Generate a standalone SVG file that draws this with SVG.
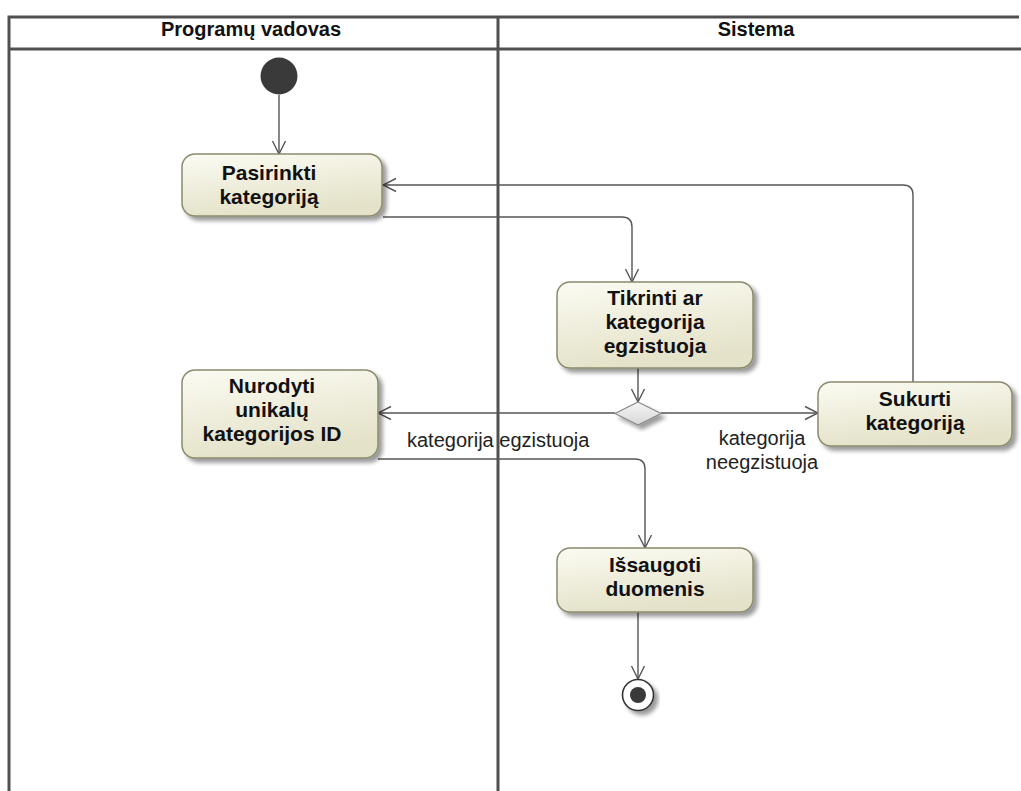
<svg xmlns="http://www.w3.org/2000/svg" width="1021" height="791" viewBox="0 0 1021 791">
  <defs>
    <linearGradient id="actFill" x1="0" y1="0" x2="0.3" y2="1">
      <stop offset="0" stop-color="#fbfbf3"/>
      <stop offset="1" stop-color="#e4e2c8"/>
    </linearGradient>
    <linearGradient id="diaFill" x1="0" y1="0" x2="0" y2="1">
      <stop offset="0" stop-color="#f4f4f4"/>
      <stop offset="1" stop-color="#d8d8d8"/>
    </linearGradient>
    <filter id="shadow" x="-10%" y="-10%" width="130%" height="140%">
      <feGaussianBlur in="SourceAlpha" stdDeviation="2"/>
      <feOffset dx="4" dy="4" result="b"/>
      <feComponentTransfer><feFuncA type="linear" slope="0.4"/></feComponentTransfer>
      <feMerge><feMergeNode/><feMergeNode in="SourceGraphic"/></feMerge>
    </filter>
    <marker id="arrow" viewBox="0 0 16 16" refX="15" refY="8" markerWidth="16" markerHeight="16" markerUnits="userSpaceOnUse" orient="auto">
      <path d="M2,1.5 L15,8 L2,14.5" fill="none" stroke="#555" stroke-width="1.4"/>
    </marker>
  </defs>
  <style>
    .lane { fill: none; stroke: #505050; stroke-width: 3; }
    .head { font-family: "Liberation Sans Narrow", "Liberation Sans", Arial, sans-serif; font-weight: bold; font-size: 20px; fill: #111; text-anchor: middle; }
    .act { fill: url(#actFill); stroke: #8a8a6c; stroke-width: 1.5; filter: url(#shadow); }
    .lbl { font-family: "Liberation Sans", Arial, sans-serif; font-weight: bold; font-size: 21px; fill: #111; text-anchor: middle; }
    .guard { font-family: "Liberation Sans", Arial, sans-serif; font-size: 20px; fill: #222; }
    .edge { fill: none; stroke: #555; stroke-width: 1.4; marker-end: url(#arrow); }
  </style>
  <rect width="1021" height="791" fill="#ffffff"/>

  <!-- swimlane frame -->
  <g id="lanes">
    <path class="lane" d="M9,800 V17 H1019"/>
    <line class="lane" x1="9" y1="49" x2="1021" y2="49"/>
    <line class="lane" x1="498" y1="17" x2="498" y2="800"/>
    <text class="head" x="251" y="36">Programų vadovas</text>
    <text class="head" x="756" y="36">Sistema</text>
  </g>

  <!-- connectors -->
  <g id="connectors">
    <path class="edge" d="M279,95 V154"/>
    <path class="edge" d="M383,217 H622 Q632,217 632,227 V282"/>
    <path class="edge" d="M638,368 V402"/>
    <path class="edge" d="M615,413 H378"/>
    <path class="edge" d="M661,413 H818"/>
    <path class="edge" d="M913,382 V195 Q913,185 903,185 H383"/>
    <path class="edge" d="M378,459 H635 Q645,459 645,469 V548"/>
    <path class="edge" d="M638,612 V679"/>
    <text class="guard" x="407" y="447">kategorija egzistuoja</text>
    <text class="guard" x="762" y="445" text-anchor="middle">kategorija</text>
    <text class="guard" x="762" y="469" text-anchor="middle">neegzistuoja</text>
  </g>

  <g id="start">
    <circle cx="279" cy="76" r="18.5" fill="#3a3a3a"/>
  </g>

  <g id="pasirinkti">
    <rect class="act" x="182" y="154" width="200" height="62" rx="13"/>
    <text class="lbl" x="269" y="180">Pasirinkti</text>
    <text class="lbl" x="269" y="204">kategoriją</text>
  </g>

  <g id="tikrinti">
    <rect class="act" x="557" y="282" width="196" height="86" rx="13"/>
    <text class="lbl" x="655" y="305">Tikrinti ar</text>
    <text class="lbl" x="655" y="329">kategorija</text>
    <text class="lbl" x="655" y="353">egzistuoja</text>
  </g>

  <g id="nurodyti">
    <rect class="act" x="182" y="370" width="196" height="88" rx="13"/>
    <text class="lbl" x="272" y="393">Nurodyti</text>
    <text class="lbl" x="272" y="417">unikalų</text>
    <text class="lbl" x="272" y="441">kategorijos ID</text>
  </g>

  <g id="decision">
    <path d="M638,402 L661,413.5 L638,425 L615,413.5 Z" fill="url(#diaFill)" stroke="#8a8a8a" stroke-width="1.2" filter="url(#shadow)"/>
  </g>

  <g id="sukurti">
    <rect class="act" x="818" y="382" width="194" height="64" rx="13"/>
    <text class="lbl" x="915" y="406">Sukurti</text>
    <text class="lbl" x="915" y="430">kategoriją</text>
  </g>

  <g id="issaugoti">
    <rect class="act" x="557" y="548" width="196" height="64" rx="13"/>
    <text class="lbl" x="655" y="572">Išsaugoti</text>
    <text class="lbl" x="655" y="596">duomenis</text>
  </g>

  <g id="end">
    <circle cx="638" cy="695" r="15.5" fill="#ffffff" stroke="#333" stroke-width="1.6" filter="url(#shadow)"/>
    <circle cx="638" cy="695" r="8" fill="#3a3a3a"/>
  </g>
</svg>
